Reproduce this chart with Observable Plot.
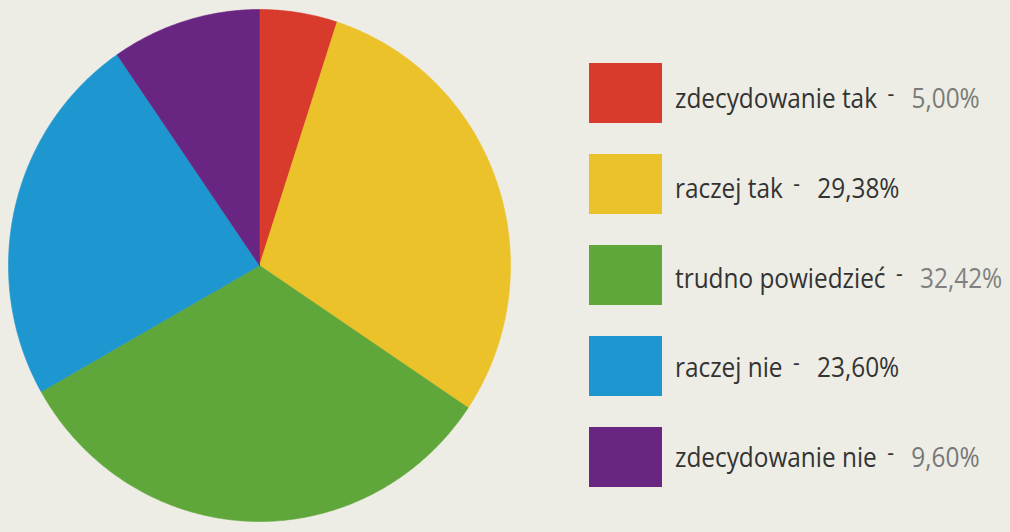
<!DOCTYPE html>
<html>
<head>
<meta charset="utf-8">
<script src="https://cdn.jsdelivr.net/npm/d3@7"></script>
<script src="https://cdn.jsdelivr.net/npm/@observablehq/plot@0.6"></script>
<style>
  html, body { margin: 0; padding: 0; background: #edede5; }
  #wrap { position: relative; width: 1010px; height: 532px; overflow: hidden; background: #edede5; }
  #chart { position: absolute; left: 0; top: 0; }
  .sw { position: absolute; left: 589px; width: 73px; height: 60px; }
  .lab { position: absolute; left: 675px; height: 60px; line-height: 60px; padding-top: 3px;
         font-family: "Open Sans", sans-serif; font-size: 28px; color: #333; white-space: nowrap;
         transform: scaleX(0.87); transform-origin: left center; }
  .dash { display: inline-block; font-size: 24px; position: relative; top: -6px; margin: 0 20px 0 12px; }
</style>
</head>
<body>
<div id="wrap"><div id="chart"></div><div id="legend"></div></div>
<script>
const categories = ["zdecydowanie tak", "raczej tak", "trudno powiedzieć", "raczej nie", "zdecydowanie nie"];
const values = [5.00, 29.38, 32.42, 23.60, 9.60];
const valueLabels = ["5,00%", "29,38%", "32,42%", "23,60%", "9,60%"];
const colors = ["#d83b2c", "#ebc22a", "#5fa73b", "#1e96cf", "#692582"];
const labelColors = ["#7a7a76", "#333333", "#808080", "#333333", "#77777a"];

// build slice outlines in unit coordinates (clockwise from 12 o'clock)
const total = d3.sum(values);
let acc = 0;
const points = [];
values.forEach((v, i) => {
  const a0 = acc / total * 2 * Math.PI;
  acc += v;
  const a1 = acc / total * 2 * Math.PI;
  points.push({cat: categories[i], x: 0, y: 0});
  const n = Math.max(2, Math.ceil((a1 - a0) / 0.01));
  for (let k = 0; k <= n; k++) {
    const a = a0 + (a1 - a0) * k / n;
    points.push({cat: categories[i], x: Math.sin(a), y: Math.cos(a)});
  }
  points.push({cat: categories[i], x: 0, y: 0});
});

const cx = 259, cy = 265, rx = 251, ry = 256;
const plot = Plot.plot({
  width: 1010,
  height: 532,
  margin: 0,
  style: {background: "transparent", overflow: "visible"},
  x: {domain: [-1, 1], range: [cx - rx, cx + rx], axis: null},
  y: {domain: [-1, 1], range: [cy + ry, cy - ry], axis: null},
  marks: categories.map((c, i) =>
    Plot.line(points.filter(p => p.cat === c), {x: "x", y: "y", fill: colors[i], stroke: colors[i], strokeWidth: 0.6, curve: "linear"})
  )
});
document.getElementById("chart").appendChild(plot);

const legend = document.getElementById("legend");
categories.forEach((c, i) => {
  const sw = document.createElement("div");
  sw.className = "sw";
  sw.style.top = (63 + i * 91) + "px";
  sw.style.background = colors[i];
  const lab = document.createElement("div");
  lab.className = "lab";
  lab.style.top = (108 + i * 89.8 - 44) + "px";
  const t = document.createElement("span");
  t.textContent = c;
  const d = document.createElement("span");
  d.className = "dash";
  d.textContent = "-";
  const p = document.createElement("span");
  p.textContent = valueLabels[i];
  p.style.color = labelColors[i];
  lab.append(t, d, p);
  legend.append(sw, lab);
});
</script>
</body>
</html>
